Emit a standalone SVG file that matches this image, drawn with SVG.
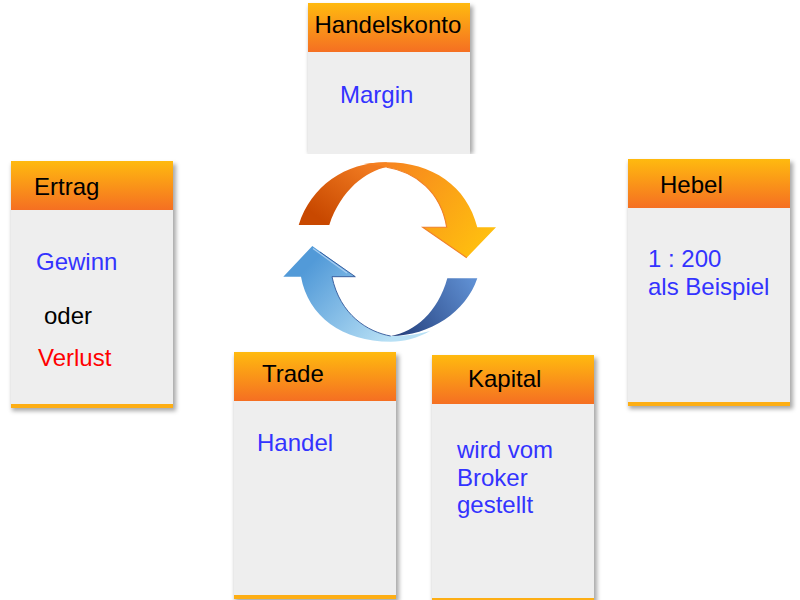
<svg xmlns="http://www.w3.org/2000/svg" width="800" height="600" viewBox="0 0 800 600">
<style>
text{font-family:"Liberation Sans",Arial,sans-serif;font-size:24px}
.t{fill:#000}.b{fill:#3333ff}.r{fill:#ff0000}
.body{fill:#eeeeee}
.sh{fill:#000;fill-opacity:.34;filter:url(#blur)}
.head{fill:url(#hg)}
.strip{fill:#fdae14}
</style>
<defs>
<linearGradient id="hg" x1="0" y1="0" x2="0" y2="1"><stop offset="0" stop-color="#ffba0f"/><stop offset="1" stop-color="#f56f22"/></linearGradient>
<linearGradient id="og" gradientUnits="userSpaceOnUse" x1="370" y1="170" x2="480" y2="250"><stop offset="0" stop-color="#f67f20"/><stop offset="1" stop-color="#ffbf0f"/></linearGradient>
<linearGradient id="od" gradientUnits="userSpaceOnUse" x1="325" y1="222" x2="365" y2="165"><stop offset="0" stop-color="#c84800"/><stop offset="1" stop-color="#f07a20"/></linearGradient>
<linearGradient id="bl" gradientUnits="userSpaceOnUse" x1="305" y1="270" x2="385" y2="345"><stop offset="0" stop-color="#529ad8"/><stop offset="1" stop-color="#b8e0f5"/></linearGradient>
<linearGradient id="bd" gradientUnits="userSpaceOnUse" x1="475" y1="285" x2="395" y2="335"><stop offset="0" stop-color="#5f8fd2"/><stop offset="1" stop-color="#243f7c"/></linearGradient>
<filter id="blur" x="-10%" y="-10%" width="120%" height="120%"><feGaussianBlur stdDeviation="2.200"/></filter>
</defs>
<g id="handelskonto">
<rect class="sh" x="309" y="6" width="164" height="148"/>
<rect class="body" x="308" y="3" width="162" height="151"/>
<rect class="head" x="308" y="3" width="162" height="49"/>
<text class="t" x="314.500" y="33">Handelskonto</text>
<text class="b" x="340" y="103">Margin</text>
</g>
<rect x="290" y="154" width="200" height="12" fill="#fff"/>
<g id="ertrag">
<rect class="sh" x="12" y="164" width="164" height="247"/>
<rect class="body" x="11" y="161" width="162" height="247"/>
<rect class="head" x="11" y="161" width="162" height="49"/>
<rect class="strip" x="11" y="404" width="162" height="4"/>
<text class="t" x="34" y="195">Ertrag</text>
<text class="b" x="36" y="270">Gewinn</text>
<text class="t" x="44" y="324">oder</text>
<text class="r" x="38" y="366">Verlust</text>
</g>
<g id="hebel">
<rect class="sh" x="629" y="162" width="164" height="247"/>
<rect class="body" x="628" y="159" width="162" height="247"/>
<rect class="head" x="628" y="159" width="162" height="49"/>
<rect class="strip" x="628" y="402" width="162" height="4"/>
<text class="t" x="660" y="193">Hebel</text>
<text class="b" x="648" y="267">1 : 200</text>
<text class="b" x="648" y="295">als Beispiel</text>
</g>
<g id="trade">
<rect class="sh" x="235" y="355" width="164" height="247"/>
<rect class="body" x="234" y="352" width="162" height="247"/>
<rect class="head" x="234" y="352" width="162" height="49"/>
<rect class="strip" x="234" y="595" width="162" height="4"/>
<text class="t" x="262" y="382">Trade</text>
<text class="b" x="257" y="451">Handel</text>
</g>
<g id="kapital">
<rect class="sh" x="433" y="358" width="164" height="247"/>
<rect class="body" x="432" y="355" width="162" height="247"/>
<rect class="head" x="432" y="355" width="162" height="49"/>
<rect class="strip" x="432" y="598" width="162" height="4"/>
<text class="t" x="468" y="387">Kapital</text>
<text class="b" x="457" y="458">wird vom</text>
<text class="b" x="457" y="486">Broker</text>
<text class="b" x="457" y="513">gestellt</text>
</g>
<g id="connectors">
<path fill="url(#bl)" d="M283.300 276.700L312.300 246L355.300 276.700H332C340 315 368 332 390.700 336C405 336 420 334 430 331C418 338 404 341.700 390.700 341.700C342 341.700 308 316 301 276.700Z"/>
<path fill="url(#bd)" d="M447.300 278.300H477.300C466 312 430 336 390.700 336C415 332 438 312 447.300 278.300Z"/>
<path fill="none" stroke="#2f5597" stroke-width=".9" d="M320 252L355.300 276.700H332C340 315 368 332 390.700 336"/>
<path fill="none" stroke="#a8cdf0" stroke-width="1.200" d="M313 248.500L347 273"/>
<path fill="url(#od)" d="M298.700 225C311 186 345 162.300 386.700 162.300L386.700 167.300C366 171 341 190 329.300 225Z"/>
<path fill="url(#og)" d="M386.700 167.300C380 165.500 372 164.500 364 164C372 163 380 162.300 386.700 162.300C432 162.300 467 186 477.300 227.300H496L466.700 257.700L422.700 227.300H446.700C441 192 416 172 386.700 167.300Z"/>
<path fill="none" stroke="#f0802a" stroke-width="1.100" d="M386.700 167.300C416 172 441 192 446.700 227.300H422.700L466.700 257.700"/>
</g>
</svg>
